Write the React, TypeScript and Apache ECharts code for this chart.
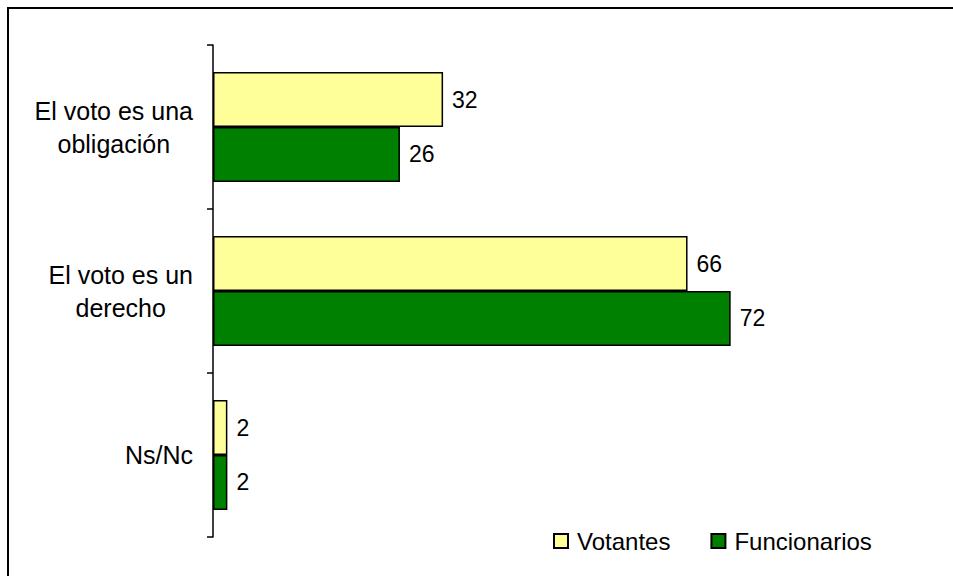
import React, { useEffect, useRef } from "react";
import * as echarts from "echarts";

const categories = ["El voto es una\nobligación", "El voto es un\nderecho", "Ns/Nc"];
const votantes = [32, 66, 2];
const funcionarios = [26, 72, 2];
const seriesNames = ["Votantes", "Funcionarios"];

const FONT = "'Liberation Sans', Arial, sans-serif";

export default function App() {
  const ref = useRef<HTMLDivElement>(null);
  useEffect(() => {
    document.documentElement.style.overflow = "hidden";
    document.body.style.overflow = "hidden";
    if (!ref.current) return;
    const chart = echarts.init(ref.current, undefined, { renderer: "svg" });
    const labelCfg = {
      show: true,
      position: "right" as const,
      distance: 9,
      color: "#000",
      fontSize: 23,
      fontFamily: FONT,
    };
    chart.setOption({
      animation: false,
      backgroundColor: "#fff",
      textStyle: { fontFamily: FONT },
      grid: { left: 206, top: 38, right: 21, bottom: 39, containLabel: false },
      xAxis: {
        type: "value",
        min: 0,
        max: 100,
        show: false,
        splitLine: { show: false },
      },
      yAxis: {
        type: "category",
        data: categories,
        inverse: true,
        axisLine: { show: true, lineStyle: { color: "#000", width: 1.5 } },
        axisTick: { show: true, length: 6, lineStyle: { color: "#000", width: 1.5 } },
        axisLabel: {
          margin: 20,
          color: "#000",
          fontSize: 25,
          fontFamily: FONT,
          formatter: (v: string) =>
            v.indexOf("\n") >= 0
              ? v
                  .split("\n")
                  .map((l) => `{c|${l}}`)
                  .join("\n")
              : v,
          rich: {
            c: { align: "center", fontSize: 25, fontFamily: FONT, color: "#000", lineHeight: 33 },
          },
        },
      },
      legend: {
        left: 541,
        top: 517,
        itemWidth: 14,
        itemHeight: 14,
        itemGap: 40,
        icon: "rect",
        textStyle: { fontSize: 24, color: "#000", fontFamily: FONT, padding: [0, 0, 0, 4] },
        data: seriesNames,
      },
      series: [
        {
          name: seriesNames[0],
          type: "bar",
          data: votantes,
          barGap: "0%",
          barCategoryGap: "33%",
          itemStyle: { color: "#FFFF99", borderColor: "#000", borderWidth: 1.5 },
          label: labelCfg,
        },
        {
          name: seriesNames[1],
          type: "bar",
          data: funcionarios,
          barGap: "0%",
          barCategoryGap: "33%",
          itemStyle: { color: "#008000", borderColor: "#000", borderWidth: 1.5 },
          label: labelCfg,
        },
      ],
    });
    return () => chart.dispose();
  }, []);
  return (
    <>
      <div
        ref={ref}
        style={{ position: "fixed", left: 7, top: 7, width: 946, height: 569 }}
      />
      <div
        style={{
          position: "fixed",
          left: 7,
          top: 7,
          width: 946,
          height: 569,
          boxSizing: "border-box",
          borderLeft: "2px solid #000",
          borderTop: "2px solid #000",
          pointerEvents: "none",
        }}
      />
    </>
  );
}
